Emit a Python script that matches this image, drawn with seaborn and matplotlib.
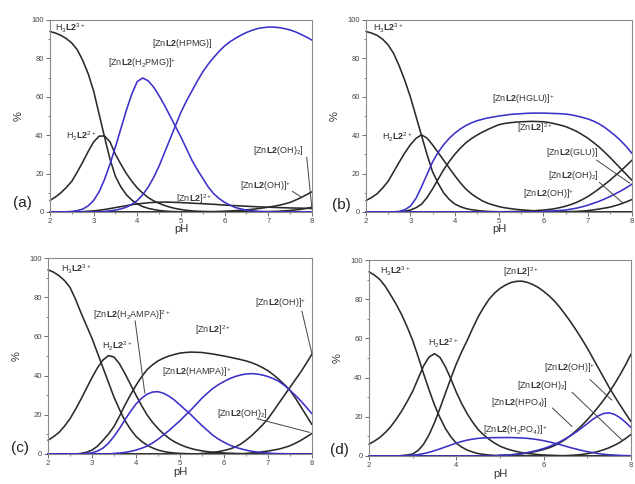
import matplotlib
matplotlib.use("Agg")
import matplotlib.pyplot as plt
from matplotlib.ticker import MultipleLocator
import seaborn as sns

# ---------------- data (every 0.125 pH unit) ----------------
PH = [2.0, 2.125, 2.25, 2.375, 2.5, 2.625, 2.75, 2.875, 3.0, 3.125, 3.25, 3.375,
      3.5, 3.625, 3.75, 3.875, 4.0, 4.125, 4.25, 4.375, 4.5, 4.625, 4.75, 4.875,
      5.0, 5.125, 5.25, 5.375, 5.5, 5.625, 5.75, 5.875, 6.0, 6.125, 6.25, 6.375,
      6.5, 6.625, 6.75, 6.875, 7.0, 7.125, 7.25, 7.375, 7.5, 7.625, 7.75, 7.875, 8.0]

# panel (a)  Zn / L2 / PMG
A_H3L2 = [94, 93.2, 92, 90.3, 88, 84.5, 79, 72, 63, 51, 39, 27.5, 18.5, 13, 9, 6.2, 4.2,
          2.8, 1.9, 1.3, 0.8, 0.5, 0.3, 0.2, 0.1] + [0] * 24
A_H2L2 = [6, 7.8, 10, 12.8, 16, 20.8, 26, 31.5, 36.5, 39.5, 39.6, 36.5, 30, 24.8, 20, 16,
          12.5, 9.8, 7.5, 5.8, 4.5, 3.4, 2.5, 1.8, 1.3, 0.9, 0.6, 0.4, 0.3, 0.2, 0.1] + [0] * 18
A_H2PMG = [0, 0, 0, 0.1, 0.3, 0.7, 1.5, 3.2, 6, 10.5, 17, 25, 34, 43.5, 53, 61.5, 68,
           69.8, 68.3, 65, 60.5, 55.5, 50, 44.5, 39, 33, 27, 22, 17.5, 13, 9.5, 7, 5,
           3.5, 2.3, 1.6, 1, 0.7, 0.4, 0.25, 0.1] + [0] * 8
A_HPMG = [0] * 9 + [0.1, 0.3, 0.6, 1, 1.6, 2.5, 4, 6, 9, 13, 18, 24, 31, 38, 45, 52, 57.8,
                    63, 68.2, 73, 77, 80.5, 83.7, 86.5, 88.7, 90.5, 92.1, 93.5, 94.6, 95.5,
                    96, 96.3, 96.3, 96, 95.5, 94.8, 93.8, 92.5, 91.1, 89.5]
A_ZNL2 = [0] * 6 + [0.2, 0.4, 0.6, 0.9, 1.3, 1.8, 2.3, 2.8, 3.3, 3.8, 4.2, 4.5, 4.8, 5.0,
                    5.1, 5.15, 5.1, 5.0, 4.9, 4.75, 4.6, 4.45, 4.3, 4.15, 4.0, 3.8, 3.6,
                    3.45, 3.3, 3.15, 3.0, 2.85, 2.7, 2.6, 2.5, 2.4, 2.3, 2.2, 2.1, 2.05,
                    2.0, 1.9, 1.8]
A_OH = [0] * 28 + [0.1, 0.15, 0.2, 0.3, 0.4, 0.55, 0.7, 0.9, 1.1, 1.4, 1.7, 2.1, 2.5, 3.0,
                   3.5, 4.2, 5.0, 6.2, 7.5, 9.0, 10.5]
A_OH2 = [0] * 36 + [0.05, 0.07, 0.1, 0.15, 0.2, 0.3, 0.4, 0.6, 0.8, 1.1, 1.4, 1.9, 2.5]

# panel (b)  Zn / L2 / GLU
B_H3L2 = [94, 93.2, 92, 90, 87, 82.5, 76, 68.5, 60, 50, 40, 30, 21, 15, 10, 6.6, 4.2, 2.8,
          1.8, 1.2, 0.8, 0.5, 0.3, 0.2, 0.1] + [0] * 24
B_H2L2 = [6, 7.5, 9.5, 12.5, 16, 21, 26, 30.8, 35, 38.3, 40.2, 38.5, 35, 31, 27, 23, 19,
          15.3, 12, 9.5, 7.5, 5.8, 4.5, 3.6, 2.8, 2.2, 1.8, 1.4, 1.1, 0.9, 0.7, 0.5, 0.4,
          0.3, 0.25, 0.2, 0.15, 0.12, 0.1, 0.07, 0.05] + [0] * 8
B_HGLU = [0] * 5 + [0.1, 0.3, 1.2, 3, 7, 13, 19.5, 26, 31, 35, 38.3, 41, 43.2, 45, 46.4,
                    47.5, 48.3, 49, 49.5, 50, 50.4, 50.8, 51, 51.2, 51.4, 51.5, 51.5, 51.5,
                    51.4, 51.3, 51.2, 51, 50.6, 50, 49.3, 48.5, 47.4, 46, 44.2, 42, 39.7,
                    37, 34, 30.5]
B_ZNL2 = [0] * 6 + [0.1, 0.4, 1, 2.2, 4, 7.5, 12, 17, 22, 26.2, 30, 33.2, 36, 38.2, 40,
                    41.6, 43, 44.3, 45.5, 46.1, 46.5, 46.8, 47, 47.1, 47.2, 47.1, 47, 46.6,
                    46, 45.3, 44.5, 43.3, 42, 40.3, 38.5, 36.3, 34, 31.3, 28.5, 25.5, 22.5,
                    19.5, 16.5]
B_GLU = [0] * 32 + [0.3, 0.45, 0.6, 0.8, 1.0, 1.5, 2.0, 2.7, 3.5, 4.5, 5.5, 6.7, 8.0, 9.5,
                    11, 12.7, 14.5]
B_OH = [0] * 24 + [0.1, 0.15, 0.2, 0.25, 0.3, 0.45, 0.6, 0.8, 1.0, 1.3, 1.7, 2.3, 3.0, 3.9,
                   5.0, 6.4, 8.0, 9.9, 12, 14.2, 16.5, 19, 21.5, 24.2, 27]
B_OH2 = [0] * 36 + [0.1, 0.2, 0.3, 0.5, 0.7, 1.1, 1.5, 2.0, 2.5, 3.3, 4.2, 5.3, 6.5]

# panel (c)  Zn / L2 / AMPA
C_H3L2 = [94, 92.8, 91, 88.5, 85, 79, 72, 65.5, 59, 51.5, 44, 36.5, 29, 22.7, 17, 12.6, 9,
          6.5, 4.5, 3.1, 2, 1.3, 0.8, 0.5, 0.3, 0.2, 0.1] + [0] * 22
C_H2L2 = [7, 8.8, 11, 14.2, 18, 22.8, 28, 33.5, 39, 44, 48, 50.2, 49.5, 46, 41, 35.5, 30,
          24.8, 20, 16.2, 13, 10.3, 8, 6.2, 4.8, 3.7, 2.8, 2.1, 1.6, 1.2, 0.9, 0.7, 0.5,
          0.4, 0.3, 0.2, 0.1] + [0] * 12
C_ZNL2 = [0] * 6 + [0.3, 0.9, 2, 4, 7, 10.2, 14, 19.3, 25, 30.2, 35, 39.3, 43, 45.5, 47.5,
                    48.9, 50, 50.8, 51.5, 51.8, 52, 51.9, 51.8, 51.4, 51, 50.5, 50, 49.4,
                    48.8, 48.2, 47.5, 46.6, 45.5, 44.1, 42.5, 40.4, 38, 35.4, 32.5, 28.5,
                    24, 19.5, 15]
C_H2AMPA = [0] * 6 + [0.1, 0.3, 0.6, 1.5, 3, 5.5, 9, 13, 17.5, 21.7, 25.5, 28.4, 30.5, 31.6,
                      31.8, 31, 29.5, 27.5, 25, 22.5, 20, 17.2, 14.5, 12, 9.5, 7.6, 6, 4.6,
                      3.5, 2.7, 2, 1.4, 1, 0.7, 0.5, 0.3, 0.2, 0.15, 0.1] + [0] * 4
C_HAMPA = [0] * 12 + [0.3, 0.5, 0.8, 1.3, 2, 2.9, 4, 5.6, 7.5, 9.7, 12, 14.5, 17, 19.8, 22.5,
                      25.5, 28.5, 31.1, 33.5, 35.4, 37, 38.4, 39.5, 40.3, 40.8, 41, 40.8,
                      40.3, 39.5, 38.4, 37, 35, 32.5, 29.9, 27, 23.8, 20.5]
C_OH = [0] * 28 + [0.3, 0.5, 0.8, 1.2, 1.8, 2.5, 3.5, 5, 7, 9.3, 12, 14.8, 18, 21.9, 26, 30,
                   34, 38, 42, 46.4, 51]
C_OH2 = [0] * 36 + [0.3, 0.5, 0.7, 1.1, 1.5, 2.0, 2.5, 3.3, 4.2, 5.5, 7, 8.7, 10.5]

# panel (d)  Zn / L2 / phosphate
D_H3L2 = [94, 92.3, 90, 86.5, 82, 77.3, 72, 65.8, 59, 50.7, 42, 33.8, 26, 19.6, 14, 9.8, 6.5,
          4.5, 3, 2, 1.2, 0.8, 0.5, 0.3, 0.2, 0.15, 0.1] + [0] * 22
D_H2L2 = [6, 7.6, 9.5, 12, 15, 18.8, 23, 27.8, 33, 39.5, 46, 50.5, 52.2, 50.3, 45.5, 39.3,
          32.5, 26.6, 21.5, 17.2, 13.5, 10.8, 8.5, 6.6, 5, 3.9, 3, 2.3, 1.7, 1.3, 1, 0.7,
          0.5, 0.4, 0.3, 0.2, 0.1] + [0] * 12
D_ZNL2 = [0] * 6 + [0.2, 0.5, 1, 2.8, 6, 10.8, 17, 24.3, 32, 39.7, 47, 53.3, 59, 65.2, 71,
                    75.8, 80, 83.1, 85.5, 87.2, 88.5, 89.1, 89.2, 88.6, 87.5, 86, 84, 81.7,
                    79, 75.7, 72, 68.2, 64, 59.6, 55, 50, 45, 40, 35, 30.4, 26, 21.7, 17.5]
D_H2PO4 = [0] * 6 + [0.1, 0.2, 0.4, 0.7, 1.2, 1.9, 2.7, 3.6, 4.6, 5.6, 6.6, 7.4, 8.1, 8.6,
                     9, 9.2, 9.3, 9.35, 9.4, 9.4, 9.4, 9.3, 9.2, 9.0, 8.7, 8.3, 7.8, 7.2,
                     6.5, 5.8, 5, 4.2, 3.5, 2.8, 2.2, 1.7, 1.2, 0.9, 0.6, 0.45, 0.3, 0.2, 0.1]
D_HPO4 = [0] * 24 + [0.3, 0.45, 0.6, 0.9, 1.2, 1.7, 2.3, 3.0, 3.8, 4.8, 6, 7.3, 8.8, 10.5,
                     12.3, 14.4, 16.5, 18.7, 20.5, 21.7, 22, 21.2, 19.5, 17.2, 14.5]
D_OH = [0] * 24 + [0.3, 0.45, 0.6, 0.8, 1.1, 1.5, 2, 2.6, 3.3, 4.2, 5.3, 6.8, 8.5, 10.6, 13,
                   15.6, 18.5, 21.6, 25, 28.6, 32.5, 36.8, 41.5, 46.5, 52]
D_OH2 = [0] * 36 + [0.2, 0.35, 0.5, 0.8, 1.2, 1.7, 2.3, 3.2, 4.2, 5.5, 7, 8.9, 11]

# species labels
L_H3L2 = r'$\mathrm{H_3}\mathbf{L2}^{3+}$'
L_H2L2 = r'$\mathrm{H_2}\mathbf{L2}^{2+}$'
L_ZNL2 = r'$\mathrm{[Zn}\mathbf{L2}\mathrm{]^{2+}}$'
L_OH = r'$\mathrm{[Zn}\mathbf{L2}\mathrm{(OH)]^{+}}$'
L_OH2 = r'$\mathrm{[Zn}\mathbf{L2}\mathrm{(OH)_2]}$'
L_HPMG = r'$\mathrm{[Zn}\mathbf{L2}\mathrm{(HPMG)]}$'
L_H2PMG = r'$\mathrm{[Zn}\mathbf{L2}\mathrm{(H_2PMG)]^{+}}$'
L_HGLU = r'$\mathrm{[Zn}\mathbf{L2}\mathrm{(HGLU)]^{+}}$'
L_GLU = r'$\mathrm{[Zn}\mathbf{L2}\mathrm{(GLU)]}$'
L_H2AMPA = r'$\mathrm{[Zn}\mathbf{L2}\mathrm{(H_2AMPA)]^{2+}}$'
L_HAMPA = r'$\mathrm{[Zn}\mathbf{L2}\mathrm{(HAMPA)]^{+}}$'
L_HPO4 = r'$\mathrm{[Zn}\mathbf{L2}\mathrm{(HPO_4)]}$'
L_H2PO4 = r'$\mathrm{[Zn}\mathbf{L2}\mathrm{(H_2PO_4)]^{+}}$'

PANEL_TAGS = ['(a)', '(b)', '(c)', '(d)']

# ---------------- style ----------------
sns.set_style('white')
plt.rcParams['font.family'] = ['Liberation Sans', 'DejaVu Sans']
plt.rcParams['mathtext.fontset'] = 'custom'
plt.rcParams['mathtext.rm'] = 'Liberation Sans'
plt.rcParams['mathtext.bf'] = 'Liberation Sans:bold'
plt.rcParams['mathtext.it'] = 'Liberation Sans:italic'

BLK = '#2a2a2a'
BLU = '#3b30c8'
TXT = '#333333'
LW = 1.15

fig = plt.figure(figsize=(6.35, 4.84), dpi=100)
ax_a = fig.add_axes([0.0787, 0.5620, 0.4126, 0.3967])
ax_b = fig.add_axes([0.5764, 0.5620, 0.4189, 0.3967])
ax_c = fig.add_axes([0.0756, 0.0620, 0.4157, 0.4049])
ax_d = fig.add_axes([0.5811, 0.0579, 0.4126, 0.4049])


def curve(ax, vals, color):
    assert len(vals) == len(PH)
    sns.lineplot(x=PH, y=vals, ax=ax, color=color, linewidth=LW,
                 errorbar=None, legend=False, clip_on=False,
                 solid_joinstyle='round')


def label(ax, x, y, s):
    ax.text(x, y, s, fontsize=6.5, color=TXT, ha='left', va='center')


def leader(ax, p0, p1):
    ax.annotate('', xy=p1, xytext=p0,
                arrowprops=dict(arrowstyle='-', color='#444444', lw=0.7,
                                shrinkA=0, shrinkB=0))


def frame(ax, xmajor):
    ax.set_xlim(2, 8)
    ax.set_ylim(0, 100)
    ax.xaxis.set_major_locator(MultipleLocator(xmajor))
    ax.xaxis.set_minor_locator(MultipleLocator(xmajor / 2))
    ax.yaxis.set_major_locator(MultipleLocator(20))
    ax.yaxis.set_minor_locator(MultipleLocator(10))
    ax.tick_params(which='major', direction='out', length=3, width=0.6,
                   color='#555555', labelsize=5.5, labelcolor='#444444', pad=1.5,
                   bottom=True, left=True)
    ax.tick_params(which='minor', direction='out', length=1.6, width=0.5,
                   color='#555555', bottom=True, left=True)
    for sp in ax.spines.values():
        sp.set_color('#8a8a8a')
        sp.set_linewidth(0.8)
    ax.set_xlabel('pH', fontsize=8, color='#333333')
    ax.set_ylabel('%', fontsize=8, color='#333333')
    ax.xaxis.set_label_coords(0.5, -0.065)
    ax.yaxis.set_label_coords(-0.1, 0.5)


# ---- (a)
for v, c in [(A_H3L2, BLK), (A_H2L2, BLK), (A_ZNL2, BLK), (A_OH, BLK), (A_OH2, BLK),
             (A_H2PMG, BLU), (A_HPMG, BLU)]:
    curve(ax_a, v, c)
frame(ax_a, 1)
label(ax_a, 2.12, 95.5, L_H3L2)
label(ax_a, 4.33, 88, L_HPMG)
label(ax_a, 3.33, 77.5, L_H2PMG)
label(ax_a, 2.37, 39.5, L_H2L2)
label(ax_a, 4.88, 6.8, L_ZNL2)
label(ax_a, 6.35, 13.5, L_OH)
leader(ax_a, (7.55, 10.8), (7.75, 7.8))
label(ax_a, 6.65, 32, L_OH2)
leader(ax_a, (7.88, 28.5), (8.0, 1.5))

# ---- (b)
for v, c in [(B_H3L2, BLK), (B_H2L2, BLK), (B_ZNL2, BLK), (B_OH, BLK), (B_OH2, BLK),
             (B_HGLU, BLU), (B_GLU, BLU)]:
    curve(ax_b, v, c)
frame(ax_b, 1)
label(ax_b, 2.15, 95.5, L_H3L2)
label(ax_b, 4.85, 59, L_HGLU)
label(ax_b, 2.37, 39, L_H2L2)
label(ax_b, 5.4, 43.5, L_ZNL2)
label(ax_b, 6.05, 31, L_GLU)
leader(ax_b, (7.2, 27), (7.95, 15))
label(ax_b, 6.1, 19, L_OH2)
leader(ax_b, (7.26, 15.5), (7.8, 4.5))
label(ax_b, 5.55, 9.5, L_OH)

# ---- (c)
for v, c in [(C_H3L2, BLK), (C_H2L2, BLK), (C_ZNL2, BLK), (C_OH, BLK), (C_OH2, BLK),
             (C_H2AMPA, BLU), (C_HAMPA, BLU)]:
    curve(ax_c, v, c)
frame(ax_c, 1)
label(ax_c, 2.3, 94, L_H3L2)
label(ax_c, 3.03, 71, L_H2AMPA)
leader(ax_c, (3.98, 68), (4.2, 31))
label(ax_c, 5.35, 63, L_ZNL2)
label(ax_c, 3.22, 55, L_H2L2)
label(ax_c, 4.6, 42, L_HAMPA)
label(ax_c, 6.7, 77, L_OH)
leader(ax_c, (7.77, 73), (8.0, 51))
label(ax_c, 5.85, 20.7, L_OH2)
leader(ax_c, (6.75, 18), (7.95, 11))

# ---- (d)
for v, c in [(D_H3L2, BLK), (D_H2L2, BLK), (D_ZNL2, BLK), (D_OH, BLK), (D_OH2, BLK),
             (D_H2PO4, BLU), (D_HPO4, BLU)]:
    curve(ax_d, v, c)
frame(ax_d, 2)
label(ax_d, 2.25, 94, L_H3L2)
label(ax_d, 5.07, 94, L_ZNL2)
label(ax_d, 3.35, 57.5, L_H2L2)
label(ax_d, 6.0, 45, L_OH)
leader(ax_d, (7.06, 39), (7.56, 28.5))
label(ax_d, 5.4, 36, L_OH2)
leader(ax_d, (6.65, 32.5), (7.8, 8))
label(ax_d, 4.8, 27.5, L_HPO4)
leader(ax_d, (6.2, 24.5), (6.65, 15))
label(ax_d, 4.6, 13, L_H2PO4)

# panel tags
for (x, y), t in zip([(0.036, 0.581), (0.537, 0.576), (0.032, 0.074), (0.535, 0.070)], PANEL_TAGS):
    fig.text(x, y, t, fontsize=11, color='#222222', ha='center', va='center')

fig.savefig('out.png', dpi=100)
